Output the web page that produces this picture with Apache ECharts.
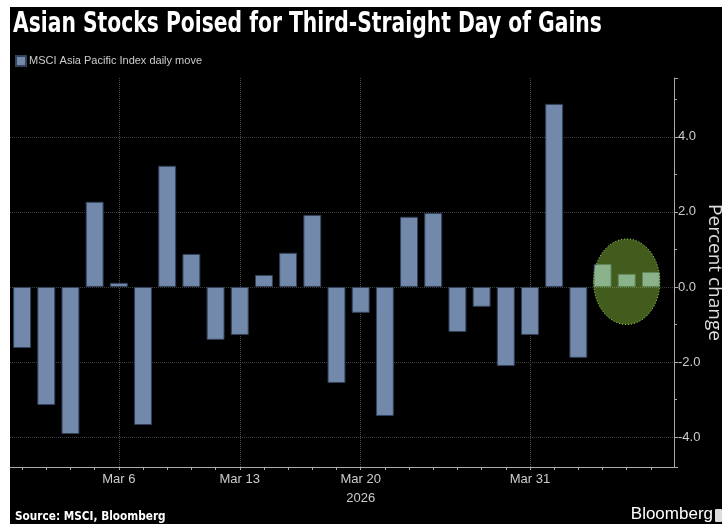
<!DOCTYPE html>
<html><head><meta charset="utf-8">
<script src="https://cdn.jsdelivr.net/npm/echarts@6/dist/echarts.min.js"></script>
<style>
html,body{margin:0;padding:0;background:#fff;width:722px;height:524px;overflow:hidden}
#panel{position:absolute;left:10px;top:7px;width:712px;height:517px;background:#000}
#chart{position:absolute;left:0;top:0;width:722px;height:524px}
</style></head><body><div id="panel"></div><div id="chart"></div>
<script>
// ---- data ----
const categories = ['Mar 2','Mar 3','Mar 4','Mar 5','Mar 6','Mar 9','Mar 10','Mar 11','Mar 12','Mar 13',
  'Mar 16','Mar 17','Mar 18','Mar 19','Mar 20','Mar 23','Mar 24','Mar 25','Mar 26','Mar 27',
  'Mar 30','Mar 31','Apr 1','Apr 2','Apr 3','Apr 6','Apr 7'];
const dailyMove = [-1.63,-3.15,-3.92,2.27,0.11,-3.68,3.23,0.88,-1.41,-1.28,
  0.32,0.91,1.92,-2.56,-0.69,-3.44,1.87,1.97,-1.20,-0.53,
  -2.11,-1.28,4.88,-1.89,0.61,0.35,0.40];
const labeledDates = ['Mar 6','Mar 13','Mar 20','Mar 31'];
const yearUnder = {'Mar 20':'2026'};
const highlight = ['Apr 3','Apr 7',-1.0,1.28]; // first cat, last cat, low value, high value
const yMin = -4.8, yMax = 5.57;
const seriesName = 'MSCI Asia Pacific Index daily move';
const titleText = 'Asian Stocks Poised for Third-Straight Day of Gains';
const sourceText = 'Source: MSCI, Bloomberg';
const brandText = 'Bloomberg';
const yName = 'Percent change';

const LAB = "'Liberation Sans',Arial,sans-serif";
const chart = echarts.init(document.getElementById('chart'), null, {renderer:'canvas'});
const barFrac = 0.74;
const hiData = [[categories.indexOf(highlight[0]), categories.indexOf(highlight[1]), highlight[2], highlight[3]]];

chart.setOption({
  backgroundColor: 'transparent',
  animation: false,
  legend: {
    data: [seriesName], left: 15, top: 55, padding: 0, icon: 'rect', itemWidth: 10, itemHeight: 10, itemGap: 4,
    textStyle: {color:'#ccc', fontSize: 11, fontFamily: LAB, padding: [0,0,0,-2]}
  },
  grid: [
    {left: 10, right: 48, top: 78, bottom: 57, containLabel: false, outerBoundsMode: 'none'},
    {left: 10, right: 59, top: 78, bottom: 57, containLabel: false, outerBoundsMode: 'none'}
  ],
  xAxis: [
    {gridIndex: 0, type: 'value', min: 0, max: 1,
     axisLine: {show: true, onZero: false, lineStyle: {color:'#aaa', width: 1}},
     axisTick: {show: false}, axisLabel: {show: false}, splitLine: {show: false}},
    {gridIndex: 1, type: 'category', data: categories,
     axisLine: {show: false, onZero: false},
     axisTick: {show: true, alignWithLabel: true, interval: 0, length: 3, lineStyle: {color:'#aaa'}},
     axisLabel: {
       interval: (i, v) => labeledDates.indexOf(v) >= 0,
       formatter: v => yearUnder[v] ? v + '\n' + yearUnder[v] : v,
       color: '#ccc', fontSize: 13, lineHeight: 19, margin: 3, fontFamily: LAB
     },
     splitLine: {show: false}}
  ],
  yAxis: [
    {gridIndex: 0, type: 'value', position: 'right', min: yMin, max: yMax,
     axisLine: {show: true, onZero: false, lineStyle: {color:'#aaa'}},
     axisTick: {show: true, length: 4, lineStyle: {color:'#aaa'}},
     minorTick: {show: true, splitNumber: 2, length: 3, lineStyle: {color:'#aaa'}},
     axisLabel: {color:'#ccc', fontSize: 13, margin: 4, fontFamily: LAB, showMinLabel: false, showMaxLabel: false,
       formatter: v => (Math.abs(Math.round(v) - v) < 1e-6 && Math.round(v) % 2 === 0) ? v.toFixed(1) : ''},
     splitLine: {show: true, showMinLine: false, showMaxLine: false, lineStyle: {color:'#3d3d3d', type:'dotted'}},
     name: yName, nameLocation: 'middle', nameRotate: -90, nameGap: 31, nameMoveOverlap: false,
     nameTextStyle: {color:'#ddd', fontSize: 19, fontFamily: "'Open Sans',sans-serif"}},
    {gridIndex: 1, type: 'value', min: yMin, max: yMax, show: false,
     axisLine: {show: false, onZero: false}}
  ],
  series: [
    {name: seriesName, type: 'bar', xAxisIndex: 1, yAxisIndex: 1, data: dailyMove,
     barWidth: (barFrac*100) + '%',
     itemStyle: {color:'#7289ab', borderColor:'#33415a', borderWidth: 1},
     markLine: {silent: true, symbol: 'none', z: 1, label: {show: false},
       lineStyle: {color:'#4a4a4a', type:'dotted', width: 1},
       data: labeledDates.map(d => ({xAxis: d}))}},
    {type: 'custom', xAxisIndex: 1, yAxisIndex: 1, z: 5, data: hiData,
     encode: {x: [0,1], y: [2,3]},
     renderItem: (params, api) => {
       const a = api.coord([api.value(0), api.value(3)]);
       const b = api.coord([api.value(1), api.value(2)]);
       const bw = api.size([1, 0])[0] * barFrac;
       const left = a[0] - bw/2, right = b[0] + bw/2;
       return {type:'ellipse',
         shape: {cx: (left+right)/2, cy: (a[1]+b[1])/2, rx: (right-left)/2, ry: (b[1]-a[1])/2},
         style: {fill:'rgba(182,255,82,0.36)', stroke:'rgba(170,230,90,0.9)', lineWidth: 1, lineDash: [1,2]}};
     }}
  ],
  graphic: [
    {type:'text', x: 13, y: 10, scaleX: 0.70, scaleY: 1, z: 10,
     style: {text: titleText, fill:'#fff', font: "bold 29px 'DejaVu Sans'", textVerticalAlign: 'top'}},
    {type:'text', x: 15, y: 510, scaleX: 0.81, z: 10,
     style: {text: sourceText, fill:'#fff', font: "bold 13px 'DejaVu Sans'", textVerticalAlign: 'top'}},
    {type:'text', x: 713, y: 506, z: 10,
     style: {text: brandText, fill:'#fff', font: "17px 'Liberation Sans'", textAlign: 'right', textVerticalAlign: 'top'}},
    {type:'rect', x: 715, y: 509, z: 10, shape: {width: 7, height: 13, r: 1}, style: {fill:'#ddd'}}
  ]
});
</script></body></html>
